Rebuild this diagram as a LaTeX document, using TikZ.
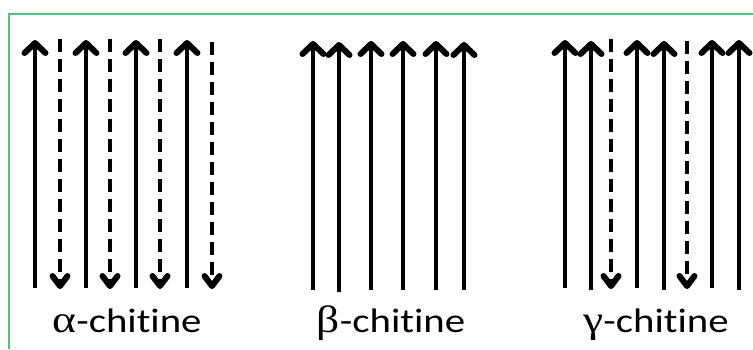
\documentclass[tikz,border=0pt]{standalone}
\usepackage{fontspec}
\setmainfont[Ligatures={NoCommon}]{Carlito}
\newfontfamily\greekfont{Liberation Serif}
\usetikzlibrary{arrows.meta}
\definecolor{framegreen}{RGB}{88,190,128}
\tikzset{
  uparrow/.style={line width=4.5pt,-{Straight Barb[length=10pt,width=21pt,line width=6pt,round]}},
  downarrow/.style={line width=4.5pt,dash pattern=on 13pt off 7pt,-{Straight Barb[length=10pt,width=15pt,line width=6pt,round]}},
  label/.style={anchor=base,inner sep=0pt,font=\fontsize{34}{40}\selectfont},
  frameline/.style={draw=framegreen,line width=1.3pt}
}
\begin{document}
\begin{tikzpicture}[x=1pt,y=-1pt]
\useasboundingbox (0,0) rectangle (753,349);
% frame
\coordinate (fb) at (9,349);
\coordinate (fc) at (9,14);
\coordinate (fr) at (753,14);
\draw[frameline] (fb) -- (fc) -- (fr);
% up arrows
\foreach \n/\x/\b/\t in {a1/35/288/40, a2/86/288/40, a3/136/288/40, a4/187/288/40,
  b1/313/290/41, b2/339/292/42, b3/371/290/41, b4/403/290/41, b5/436/290/41, b6/464/290/42,
  g1/565/288/40, g2/591/290/41, g3/637/288/40, g4/664/290/41, g5/712/288/40, g6/739/290/40} {
  \coordinate (\n s) at (\x,\b);
  \coordinate (\n e) at (\x,\t);
  \draw[uparrow] (\n s) -- (\n e);
}
% dashed down arrows
\foreach \n/\x/\t in {d1/60/39, d2/110/39, d3/160/39, d4/212/42, d5/611/39, d6/687/41} {
  \coordinate (\n s) at (\x,\t);
  \coordinate (\n e) at (\x,289);
  \draw[downarrow] (\n s) -- (\n e);
}
% labels
\node[label] (la) at (127,332) {\scalebox{1.2}[1]{{\greekfont\fontsize{38}{40}\selectfont α}-chitine}};
\node[label] (lb) at (391,332) {\scalebox{1.2}[1]{{\greekfont\fontsize{38}{40}\selectfont β}-chitine}};
\node[label] (lg) at (656,332) {\scalebox{1.2}[1]{{\greekfont\fontsize{38}{40}\selectfont γ}-chitine}};
\end{tikzpicture}
\end{document}
